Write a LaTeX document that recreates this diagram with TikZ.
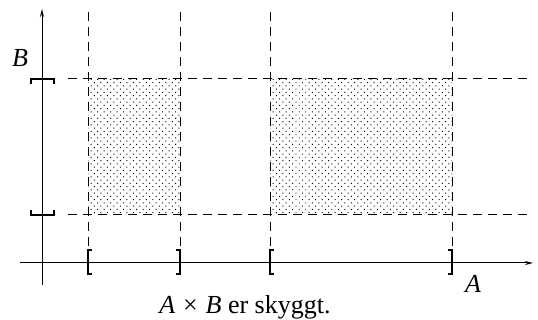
\documentclass[tikz,border=0pt]{standalone}
\usepackage{fontspec}
\setmainfont{Liberation Serif}
\usepackage{tikz}
\usetikzlibrary{arrows.meta, positioning, patterns.meta}

\begin{document}
\begin{tikzpicture}[x=1pt, y=1pt,
    guide/.style={dash pattern=on 9pt off 6pt, line width=1pt},
    bracket/.style={line width=1.6pt},
    shade/.style={pattern={Dots[distance=4.6pt, radius=0.7pt, angle=45]}, pattern color=black},
    lab/.style={font=\fontsize{26}{30}\selectfont, anchor=base, inner sep=0pt}]
    \useasboundingbox (0, 0) rectangle (538, 320);
    \def\lo{105} \def\hi{241}

    % Shaded products
    \fill[shade] (88, \lo) rectangle (180, \hi);
    \fill[shade] (270, \lo) rectangle (452, \hi);

    % Dashed guides
    \foreach \xa in {88, 180, 270, 452}
        \draw[guide] (\xa, 308) -- (\xa, 62);
    \foreach \yb in {\lo, \hi}
        \draw[guide] (68, \yb) -- (532, \yb);

    % Axes
    \draw[-{Stealth[length=8pt, width=4pt]}, line width=1pt] (42, 35) -- (42, 311);
    \draw[-{Stealth[length=8pt, width=4pt]}, line width=1pt] (20, 57) -- (533, 57);

    % Interval B
    \draw[bracket] (31, \hi-5) -- (31, \hi) -- (54, \hi) -- (54, \hi-5);
    \draw[bracket] (31, \lo+5) -- (31, \lo) -- (54, \lo) -- (54, \lo+5);

    % Intervals in A
    \foreach \xa in {88, 270}
        \draw[bracket] (\xa+4, 70) -- (\xa, 70) -- (\xa, 46) -- (\xa+4, 46);
    \foreach \xa in {180, 452}
        \draw[bracket] (\xa-4, 70) -- (\xa, 70) -- (\xa, 46) -- (\xa-4, 46);

    % Labels
    \node[lab] (labB) at (20, 253) {\textit{B}};
    \node[lab] (labA) at (473, 27) {\textit{A}};
    \node[lab] (cap) at (245, 6) {\textit{A}\hspace{0.3em}×\hspace{0.3em}\textit{B} er skyggt.};
\end{tikzpicture}
\end{document}
